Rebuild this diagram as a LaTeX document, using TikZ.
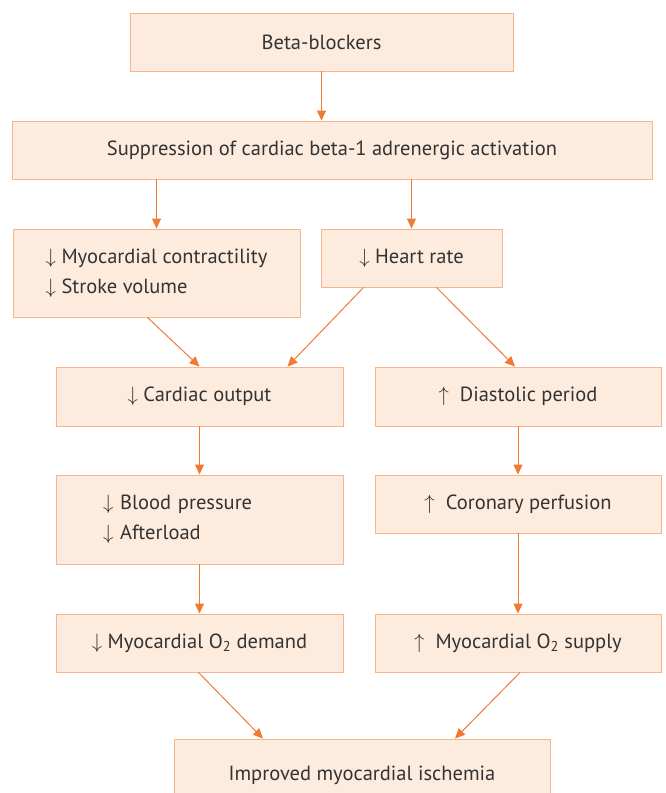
\documentclass[tikz,border=0pt]{standalone}
\usepackage{fontspec}
\setmainfont{PT Sans}
\usetikzlibrary{arrows.meta}

\definecolor{boxfill}{HTML}{FDEBDD}
\definecolor{boxline}{HTML}{F7B58C}
\definecolor{linkcol}{HTML}{F07A35}
\definecolor{txtcol}{HTML}{333333}

\begin{document}
\begin{tikzpicture}[x=1pt, y=-1pt,
  every node/.style = {shape=rectangle, draw=boxline, fill=boxfill,
    text=txtcol, font=\fontsize{20.5}{30}\selectfont, inner sep=0pt,
    line width=0.9pt},
  link/.style = {draw=linkcol, line width=1pt,
    -{Triangle[length=10pt, width=9pt]}}]

  \useasboundingbox (0,0) rectangle (665,793);

  \node (beta) [minimum width=383, minimum height=58] at (321.5,42) {Beta-blockers};
  \node (supp) [minimum width=640, minimum height=58] at (332,150)
    {Suppression of cardiac beta-1 adrenergic activation};

  \node (contr) [minimum width=287, minimum height=88, align=left] at (156.5,273)
    {$\downarrow$ Myocardial contractility\\ $\downarrow$ Stroke volume};
  \node (hr) [minimum width=181, minimum height=58] at (411.5,258)
    {$\downarrow$ Heart rate};

  \node (co) [minimum width=287, minimum height=59] at (199.5,396.5)
    {$\downarrow$ Cardiac output};
  \node (dia) [minimum width=286, minimum height=59] at (518,396.5)
    {$\uparrow$\ \ Diastolic period};

  \node (bp) [text width=193, inner xsep=47, minimum height=89, align=left] at (199.5,519.5)
    {$\downarrow$ Blood pressure\\ $\downarrow$ Afterload};
  \node (cp) [minimum width=286, minimum height=58] at (518,504)
    {$\uparrow$\ \ Coronary perfusion};

  \node (dem) [minimum width=287, minimum height=58] at (199.5,643)
    {$\downarrow$ Myocardial O\textsubscript{2} demand};
  \node (sup) [minimum width=286, minimum height=58] at (518,643)
    {$\uparrow$\ \ Myocardial O\textsubscript{2} supply};

  \node (isch) [minimum width=376, minimum height=90] at (362,784)
    {\raisebox{21pt}{Improved myocardial ischemia}};

  % connectors
  \draw [link] (beta) -- (beta |- supp.north);
  \draw [link] (supp.south -| contr.north) -- (contr);
  \draw [link] (supp.south -| hr.north) -- (hr);
  \draw [link] ([xshift=-9]contr.south) -- ([xshift=0]co.north);
  \draw [link] ([xshift=-48]hr.south) -- ([xshift=88]co.north);
  \draw [link] ([xshift=25]hr.south) -- ([xshift=-3]dia.north);
  \draw [link] (co) -- (bp);
  \draw [link] (dia) -- (cp);
  \draw [link] (bp) -- (dem);
  \draw [link] (cp) -- (sup);
  \draw [link] ([xshift=-1]dem.south) -- ([xshift=-99]isch.north);
  \draw [link] ([xshift=2]sup.south) -- ([xshift=93]isch.north);
\end{tikzpicture}
\end{document}
